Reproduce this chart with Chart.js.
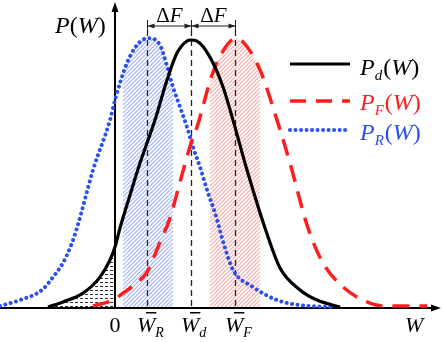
<!DOCTYPE html>
<html><head><meta charset="utf-8">
<script src="https://cdn.jsdelivr.net/npm/chart.js@4"></script>
<style>html,body{margin:0;padding:0;background:#fff;overflow:hidden}</style>
</head><body>
<canvas id="c" width="443" height="342"></canvas>
<script>
// ---- data (W in units of ΔF, P normalised to peak = 1) ----
const pdW = [-1.523,-1.182,-0.727,-0.341,-0.114,0,0.114,0.341,0.568,0.727,0.909,1.182,1.409,1.636,1.727,1.864,2.159,2.455,2.682,3.0,3.409,3.75,4.205,4.591,5.114];
const pdP = [0,0.019,0.052,0.112,0.176,0.225,0.296,0.419,0.539,0.614,0.700,0.850,0.951,0.996,1.0,0.996,0.936,0.824,0.700,0.513,0.296,0.146,0.064,0.026,0];
const pfW = [-0.5,-0.045,0.182,0.568,0.727,1.023,1.25,1.477,1.75,1.864,2.227,2.545,2.727,2.909,3.295,3.682,3.977,4.386,4.727,5.182,5.727,6.091,7.091];
const pfP = [0.004,0.026,0.052,0.101,0.131,0.243,0.333,0.468,0.625,0.674,0.880,0.981,1.004,0.993,0.888,0.700,0.539,0.296,0.165,0.075,0.019,0.004,0.004];
const prW = [-2.614,-2.159,-1.659,-1.409,-1.182,-0.977,-0.864,-0.5,-0.114,0,0.273,0.5,0.75,1.023,1.182,1.318,1.477,1.636,1.773,1.932,2.114,2.273,2.5,2.682,3.136,3.682,4.205,4.955];
const prP = [0.004,0.026,0.064,0.112,0.165,0.240,0.296,0.513,0.700,0.775,0.914,0.981,1.007,0.981,0.903,0.824,0.749,0.674,0.599,0.524,0.427,0.352,0.221,0.139,0.075,0.026,0.007,0];
const meanPos = [0.727, 1.727, 2.727];
const meanSubs = ['R', 'd', 'F'];
const legendSubs = ['d', 'F', 'R'];
const hatchRangeR = [0.182, 1.318];
const hatchRangeF = [2.159, 3.295];
const hatchRangeD = [-1.7, 0];
const xRange = [-115/44, 328/44];
const yRange = [-35/267, 307/267];

const toPts = (W, P) => W.map((w, i) => ({x: w, y: P[i]}));
const SERIF = '"Liberation Serif","Times New Roman",serif';
const BLACK = '#000', RED = '#ff1e1e', BLUE = '#2a50f0';

function diagPattern(ctx, color, s) {
  const c = document.createElement('canvas'); c.width = s; c.height = s;
  const g = c.getContext('2d');
  g.strokeStyle = color; g.lineWidth = 1.1;
  g.beginPath();
  g.moveTo(-1, s + 1); g.lineTo(s + 1, -1);
  g.moveTo(-1, 1); g.lineTo(1, -1);
  g.moveTo(s - 1, s + 1); g.lineTo(s + 1, s - 1);
  g.stroke();
  return ctx.createPattern(c, 'repeat');
}
function dashPattern(ctx) {
  const c = document.createElement('canvas'); c.width = 5; c.height = 4;
  const g = c.getContext('2d');
  g.fillStyle = '#333'; g.fillRect(0, 2, 3, 1);
  return ctx.createPattern(c, 'repeat');
}
function runs(ctx, x, y, parts, color, size, measureOnly) {
  let cx = x;
  for (const [t, it, sub] of parts) {
    const fs = sub ? Math.round(size * 0.62) : size;
    ctx.font = (it ? 'italic ' : '') + fs + 'px ' + SERIF;
    if (!measureOnly) { ctx.fillStyle = color; ctx.fillText(t, cx, y + (sub ? size * 0.22 : 0)); }
    cx += ctx.measureText(t).width + (sub ? 1 : 0);
  }
  return cx - x;
}
function drawHatch(chart, idx, range, pattern) {
  const ctx = chart.ctx, xs = chart.scales.x, ys = chart.scales.y;
  const meta = chart.getDatasetMeta(idx), line = meta.dataset, pts = meta.data;
  const x0 = xs.getPixelForValue(range[0]), x1 = xs.getPixelForValue(range[1]);
  const base = ys.getPixelForValue(0);
  ctx.save();
  ctx.beginPath(); ctx.rect(x0, 0, x1 - x0, base); ctx.clip();
  if (line.updateControlPoints) line.updateControlPoints(chart.chartArea, 'x');
  ctx.beginPath();
  if (typeof line.path === 'function') line.path(ctx);
  else pts.forEach((p, i) => i ? ctx.lineTo(p.x, p.y) : ctx.moveTo(p.x, p.y));
  ctx.lineTo(pts[pts.length - 1].x, base); ctx.lineTo(pts[0].x, base); ctx.closePath();
  ctx.fillStyle = pattern; ctx.fill();
  ctx.restore();
}
function arrowHead(ctx, x, y, dx, dy, len, half) {
  const nx = -dy, ny = dx;
  ctx.beginPath();
  ctx.moveTo(x, y);
  ctx.lineTo(x - dx * len + nx * half, y - dy * len + ny * half);
  ctx.lineTo(x - dx * len - nx * half, y - dy * len - ny * half);
  ctx.closePath(); ctx.fill();
}

const diagram = {
  id: 'diagram',
  beforeDatasetsDraw(chart) {
    const ctx = chart.ctx, xs = chart.scales.x, ys = chart.scales.y;
    drawHatch(chart, 2, hatchRangeR, diagPattern(ctx, '#a3b0f4', 4));
    drawHatch(chart, 1, hatchRangeF, diagPattern(ctx, '#f5aaaa', 4));
    drawHatch(chart, 0, hatchRangeD, dashPattern(ctx));
    const base = ys.getPixelForValue(0);
    ctx.save();
    ctx.strokeStyle = '#222'; ctx.lineWidth = 1.3; ctx.setLineDash([6, 4]);
    meanPos.forEach(m => {
      const x = Math.round(xs.getPixelForValue(m)) + 0.5;
      ctx.beginPath(); ctx.moveTo(x, 30); ctx.lineTo(x, base); ctx.stroke();
    });
    ctx.restore();
    ctx.save();
    ctx.strokeStyle = '#000'; ctx.fillStyle = '#000'; ctx.lineWidth = 2;
    const x0 = xs.getPixelForValue(0), yb = base + 1;
    ctx.beginPath(); ctx.moveTo(x0, yb); ctx.lineTo(x0, 10); ctx.stroke();
    arrowHead(ctx, x0, 2, 0, -1, 10, 3.5);
    ctx.beginPath(); ctx.moveTo(0, yb); ctx.lineTo(432, yb); ctx.stroke();
    arrowHead(ctx, 441, yb, 1, 0, 10, 3.5);
    ctx.restore();
  },
  afterDatasetsDraw(chart) {
    const ctx = chart.ctx, xs = chart.scales.x;
    ctx.save();
    const px = meanPos.map(m => Math.round(xs.getPixelForValue(m)) + 0.5);
    ctx.strokeStyle = '#222'; ctx.fillStyle = '#222'; ctx.lineWidth = 1;
    px.forEach(x => { ctx.beginPath(); ctx.moveTo(x, 20); ctx.lineTo(x, 31); ctx.stroke(); });
    ctx.beginPath(); ctx.moveTo(px[0], 26); ctx.lineTo(px[2], 26); ctx.stroke();
    arrowHead(ctx, px[0], 26, -1, 0, 7, 2.5);
    arrowHead(ctx, px[1], 26, 1, 0, 7, 2.5);
    arrowHead(ctx, px[1], 26, -1, 0, 7, 2.5);
    arrowHead(ctx, px[2], 26, 1, 0, 7, 2.5);
    ctx.textBaseline = 'alphabetic';
    for (let i = 0; i < 2; i++) {
      const parts = [['Δ', false, false], ['F', true, false]];
      const w = runs(ctx, 0, 0, parts, '#000', 21, true);
      runs(ctx, (px[i] + px[i + 1]) / 2 - w / 2, 22, parts, '#000', 21);
    }
    runs(ctx, 55, 33, [['P', true], ['(', false], ['W', true], [')', false]], '#000', 24);
    ctx.font = '22px ' + SERIF; ctx.fillStyle = '#000';
    const z = xs.getPixelForValue(0);
    ctx.textAlign = 'center'; ctx.fillText('0', z, 332); ctx.textAlign = 'left';
    meanPos.forEach((m, i) => {
      const x = xs.getPixelForValue(m) - 10;
      ctx.font = 'italic 22px ' + SERIF;
      const ww = ctx.measureText('W').width;
      runs(ctx, x, 332, [['W', true], [meanSubs[i], true, true]], '#000', 22);
      ctx.fillRect(x + 9, 312, ww - 8, 1.5);
    });
    runs(ctx, 405, 332, [['W', true]], '#000', 22);
    const leg = [
      {y: 64, tb: 75, color: BLACK, dash: [], w: 3, cap: 'butt'},
      {y: 101, tb: 110, color: RED, dash: [16, 10], w: 3.5, cap: 'butt'},
      {y: 130, tb: 140, color: BLUE, dash: [0.01, 5.5], w: 4, cap: 'round'}
    ];
    leg.forEach((l, i) => {
      ctx.save();
      ctx.strokeStyle = l.color; ctx.lineWidth = l.w; ctx.setLineDash(l.dash); ctx.lineCap = l.cap;
      ctx.beginPath(); ctx.moveTo(290, l.y); ctx.lineTo(350, l.y); ctx.stroke();
      ctx.restore();
      runs(ctx, 360, l.tb, [['P', true], [legendSubs[i], true, true], ['(', false], ['W', true], [')', false]], l.color, 24);
    });
    ctx.restore();
  }
};

new Chart(document.getElementById('c'), {
  type: 'line',
  data: {
    datasets: [
      {data: toPts(pdW, pdP), borderColor: BLACK, borderWidth: 3.2},
      {data: toPts(pfW, pfP), borderColor: RED, borderWidth: 3.5, borderDash: [17, 10]},
      {data: toPts(prW, prP), borderColor: BLUE, borderWidth: 4, borderDash: [0.01, 5.5], borderCapStyle: 'round'}
    ]
  },
  options: {
    responsive: false, animation: false,
    layout: {padding: 0},
    elements: {point: {radius: 0}, line: {cubicInterpolationMode: 'monotone', fill: false}},
    plugins: {legend: {display: false}, tooltip: {enabled: false}},
    scales: {
      x: {type: 'linear', display: false, min: xRange[0], max: xRange[1]},
      y: {type: 'linear', display: false, min: yRange[0], max: yRange[1]}
    }
  },
  plugins: [diagram]
});
</script>
</body></html>
